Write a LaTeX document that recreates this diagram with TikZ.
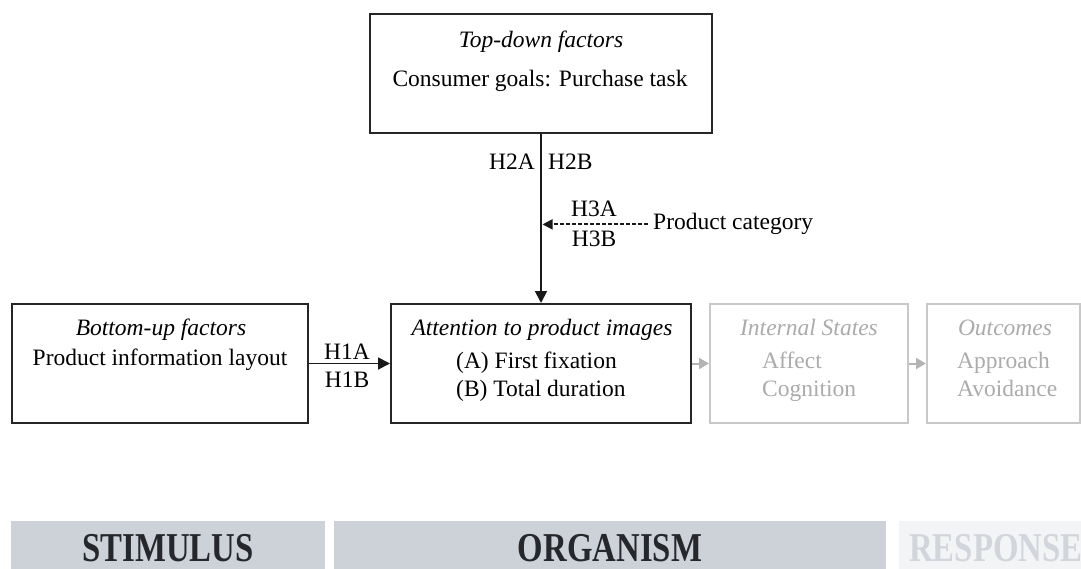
\documentclass[tikz,border=0pt]{standalone}
\usepackage{fontspec}
\setmainfont{Liberation Serif}
\usepackage{graphicx}
\usetikzlibrary{arrows.meta}
\definecolor{barc}{HTML}{CDD2D9}
\definecolor{barlight}{HTML}{F3F4F6}
\definecolor{resptext}{HTML}{D2D6DC}
\definecolor{dimtext}{HTML}{ABABAB}
\definecolor{dimline}{HTML}{C8C8C8}
\definecolor{dimarrow}{HTML}{B4B4B4}
\definecolor{bartext}{HTML}{25272A}
\begin{document}
\begin{tikzpicture}[x=1pt,y=-1pt,
  box/.style={draw=black!85, line width=2pt, inner sep=0pt},
  dimbox/.style={draw=dimline, line width=2pt, inner sep=0pt},
  txt/.style={font=\fontsize{23.5}{28}\selectfont, inner sep=0pt, anchor=base},
  ltxt/.style={txt, anchor=base west},
  itxt/.style={font=\fontsize{23.5}{28}\selectfont\itshape, inner sep=0pt, anchor=base},
  dimt/.style={text=dimtext},
  arr/.style={line width=1.8pt, draw=black!90, -{Triangle[length=12pt,width=12pt]}},
  dasharr/.style={line width=1.8pt, draw=black!90, dash pattern=on 4pt off 2pt, -{Triangle[length=10pt,width=10pt]}},
  dimarr/.style={line width=2pt, draw=dimarrow, -{Triangle[length=10pt,width=11pt]}},
  bar/.style={inner sep=0pt, anchor=north west},
  bartxt/.style={font=\fontsize{41}{46}\selectfont\bfseries, inner sep=0pt, anchor=base}
]
\useasboundingbox (0,0) rectangle (1081,569);

% boxes
\node[box, minimum width=342pt, minimum height=119pt] (top) at (541,73.5) {};
\node[box, minimum width=296pt, minimum height=119pt] (bu) at (160,363.5) {};
\node[box, minimum width=300pt, minimum height=119pt] (att) at (541,363.5) {};
\node[dimbox, minimum width=198pt, minimum height=119pt] (int) at (809,363.5) {};
\node[dimbox, minimum width=153pt, minimum height=119pt] (out) at (1003.5,363.5) {};

% top box text
\node[itxt] (tdt) at (541,48) {Top-down factors};
\node[txt] (tdc) at (540,87) {Consumer goals: Purchase task};

% bottom-up text
\node[itxt] (but) at (161,335) {Bottom-up factors};
\node[txt] (buc) at (160,365) {Product information layout};

% attention text
\node[itxt] (att1) at (542,335) {Attention to product images};
\node[ltxt] (atta) at (456,368) {(A) First fixation};
\node[ltxt] (attb) at (456,396) {(B) Total duration};

% internal states
\node[itxt, dimt] (int1) at (809,335) {Internal States};
\node[ltxt, dimt] (inta) at (762,368) {Affect};
\node[ltxt, dimt] (intb) at (762,396) {Cognition};

% outcomes
\node[itxt, dimt] (out1) at (1005,335) {Outcomes};
\node[ltxt, dimt] (outa) at (957,368) {Approach};
\node[ltxt, dimt] (outb) at (957,396) {Avoidance};

% connectors
\draw[arr] (top.south) -- (att.north);
\draw[arr] (bu.east) -- (att.west);
\draw[dimarr] (att.east) -- (int.west);
\draw[dimarr] (int.east) -- (out.west);

\node[ltxt] (pc) at (653,230) {Product category};
\coordinate (pcend) at ([xshift=1.5pt]pc.west -| top.south);
\draw[dasharr] ([xshift=-5pt]pc.west) -- (pcend);

% hypothesis labels
\node[txt, anchor=base east] (h2a) at (535,170) {H2A};
\node[txt, anchor=base west] (h2b) at (548,170) {H2B};
\node[txt] (h3a) at (594,217) {H3A};
\node[txt] (h3b) at (594,247) {H3B};
\node[txt] (h1a) at (347,359) {H1A};
\node[txt] (h1b) at (347,387) {H1B};

% bars
\node[bar, fill=barc, minimum width=314pt, minimum height=48pt] (stim) at (11,521) {};
\node[bar, fill=barc, minimum width=552pt, minimum height=48pt] (org) at (334,521) {};
\node[bar, fill=barlight, minimum width=182pt, minimum height=48pt] (resp) at (899,521) {};
\node[bartxt, text=bartext] (stimt) at (168,561) {\scalebox{0.8}[1]{STIMULUS}};
\node[bartxt, text=bartext] (orgt) at (610,561) {\scalebox{0.8}[1]{ORGANISM}};
\node[bartxt, text=resptext, anchor=base west] (respt) at (909,561) {\scalebox{0.8}[1]{RESPONSE}};
\end{tikzpicture}
\end{document}
